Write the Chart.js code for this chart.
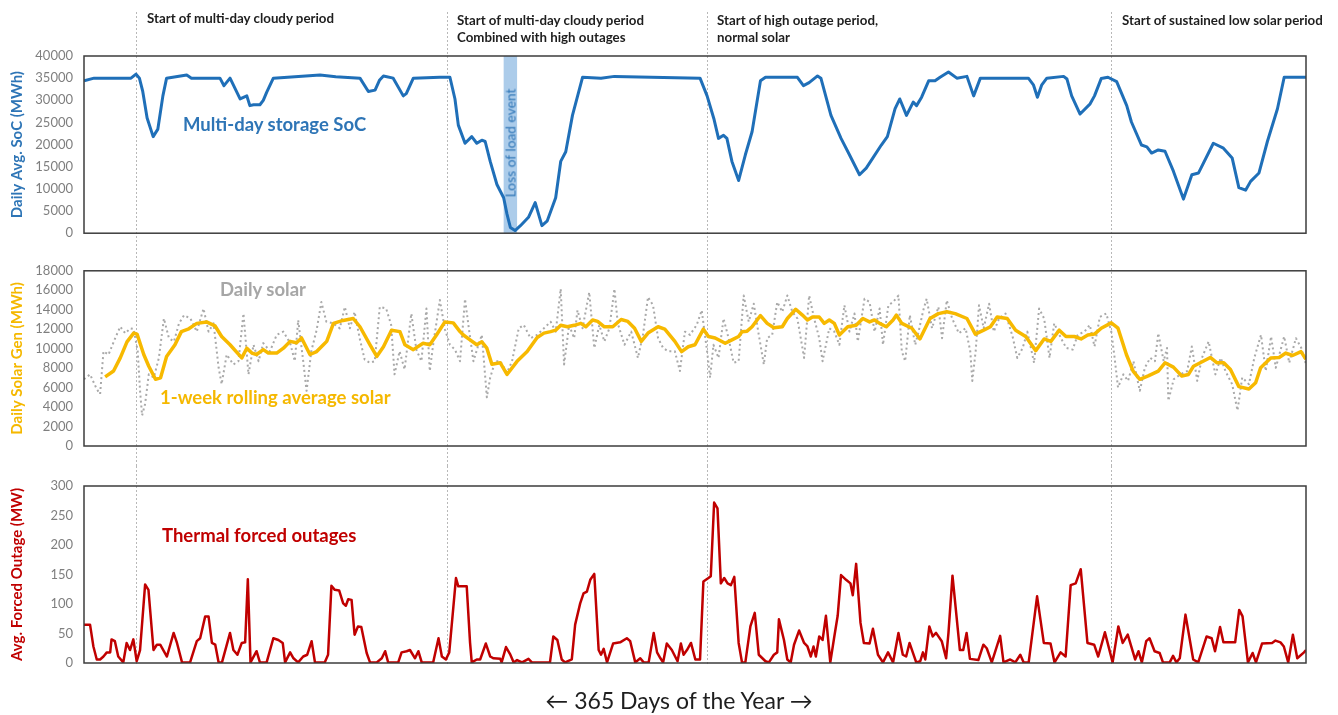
<!DOCTYPE html>
<html>
<head>
<meta charset="utf-8">
<script src="https://cdn.jsdelivr.net/npm/chart.js@4.4.1/dist/chart.umd.min.js"></script>
<style>
  body { margin: 0; background: #fff; }
  #wrap { position: relative; width: 1338px; height: 715px; overflow: hidden; font-family: Lato, 'Open Sans', sans-serif; }
  canvas { position: absolute; left: 0; }
  .note { position: absolute; font-weight: bold; font-size: 13.3px; line-height: 17px; color: #1e1e1e; white-space: nowrap; }
  .tag { position: absolute; font-weight: bold; font-size: 18.5px; line-height: 22px; white-space: nowrap; }
  .lol { position: absolute; font-size: 13.8px; color: #2e75b6; white-space: nowrap; transform: translate(-50%, -50%) rotate(-90deg); }
  .xlab { position: absolute; left: 10px; width: 1338px; top: 686px; text-align: center; font-size: 23px; color: #1e1e1e; }
</style>
</head>
<body>
<div id="wrap">
  <canvas id="socChart" width="1338" height="252" style="top:0"></canvas>
  <canvas id="solarChart" width="1338" height="214" style="top:252px"></canvas>
  <canvas id="outageChart" width="1338" height="249" style="top:466px"></canvas>

  <div class="note" style="left:147px;top:10px">Start of multi-day cloudy period</div>
  <div class="note" style="left:457px;top:12px">Start of multi-day cloudy period<br>Combined with high outages</div>
  <div class="note" style="left:717px;top:12px">Start of high outage period,<br>normal solar</div>
  <div class="note" style="left:1122px;top:12px">Start of sustained low solar period</div>

  <div class="tag" style="left:183px;top:113px;color:#2e75b6">Multi-day storage SoC</div>
  <div class="tag" style="left:220px;top:278px;color:#a6a6a6">Daily solar</div>
  <div class="tag" style="left:160px;top:386px;color:#f5b800">1-week rolling average solar</div>
  <div class="tag" style="left:162px;top:524px;color:#c00000">Thermal forced outages</div>
  <div class="lol" style="left:510px;top:143px">Loss of load event</div>

  <div class="xlab">&larr; 365 Days of the Year &rarr;</div>
</div>

<script>
// ---- data (day of year, value) ----
const markerDays = [15.5, 108, 185.6, 306];
const lossOfLoad = [125, 129];

const socTicks = [0, 5000, 10000, 15000, 20000, 25000, 30000, 35000, 40000];
const solarTicks = [0, 2000, 4000, 6000, 8000, 10000, 12000, 14000, 16000, 18000];
const outageTicks = [0, 50, 100, 150, 200, 250, 300];

const socDays = [0, 3, 14, 15.5, 16.5, 17.5, 18.8, 20.6, 22, 23.5, 24.6, 30.6, 32, 40.5, 41.7, 43.5, 46.5, 48.5, 49.4, 50.5,
  52.4, 53.4, 54.4, 56.4, 70.3, 75, 82.2, 84.7, 86.7, 88, 89.2, 92.1, 95.1, 96, 98.1, 106, 109, 110.5, 111.5, 113.5,
  115.5, 117, 118.5, 119.5, 121, 123, 125, 126, 127, 128.4, 130, 132.4, 134.4, 136.4, 138, 140.5, 142, 143.5, 145.5, 148.5,
  154, 158, 183.5, 185.6, 187.6, 189, 190.5, 191.5, 193, 195, 197, 199, 201.5, 203, 212.5, 214.3, 216, 218.5, 219.5, 222.5,
  225.5, 228, 231, 233, 235, 237.5, 239.3, 241.6, 243, 245, 247, 248, 249.5, 251.6, 253.5, 255, 257.5, 260, 263, 265,
  267, 281.3, 282.8, 284, 285.3, 286.8, 291.8, 292.8, 294.2, 296.7, 299.7, 301, 303, 305, 307.6, 310.6, 312, 315, 316.6, 318,
  320, 322, 324.5, 327.5, 330, 332, 336.4, 339.4, 342, 344, 346, 347.5, 350, 352.5, 355.5, 357.5, 364];
const socValues = [34400, 35000, 35000, 35900, 35000, 32000, 26000, 21800, 23500, 31000, 35000, 35700, 35000, 35000, 33300, 35000, 30300, 31000, 28800, 29000,
  29000, 30000, 31800, 35000, 35700, 35300, 35000, 32000, 32300, 34500, 35500, 35000, 31000, 31500, 35000, 35200, 35200, 30300, 24400, 20300,
  21800, 20300, 21000, 20700, 16200, 11000, 8000, 4300, 1300, 600, 1700, 3600, 6900, 1700, 2800, 8000, 16200, 18400, 26600, 35200,
  35000, 35400, 35000, 31000, 25900, 21400, 22100, 21400, 16200, 11900, 17700, 22900, 34400, 35200, 35200, 33300, 34000, 35500, 35000, 26600,
  21400, 17700, 13200, 14700, 17000, 19900, 21800, 28100, 30300, 26600, 29600, 28800, 30700, 34400, 34400, 35200, 36400, 35000, 35400, 31000,
  35000, 35000, 33500, 30700, 33500, 35000, 35400, 34800, 31000, 26900, 29200, 31000, 34900, 35200, 34200, 28800, 25100, 19900, 19500, 18100,
  18800, 18500, 14000, 7700, 13200, 13600, 20300, 19200, 17000, 10300, 9700, 11700, 13600, 20700, 28100, 35200, 35200];

const avgDays = [6.3, 8.8, 10.8, 12.8, 14.8, 15.8, 17.8, 19.3, 21.3, 22.8, 24.6, 27.1, 29, 31, 33.6, 36.5, 39, 41, 43.5, 47,
  48.5, 50, 51.4, 53.4, 54.9, 57.4, 59.4, 61.4, 63.3, 64.8, 67.3, 69.3, 71.3, 72.3, 74.3, 77.2, 80.2, 82.2, 85.2, 87.2,
  89.2, 91.6, 94.1, 95.6, 98.1, 101, 103, 105, 107.5, 110, 112, 113, 115, 117, 118.5, 120, 121.5, 124, 126, 129,
  132, 135, 137, 139, 140.5, 142, 144, 146, 148, 149.5, 151.5, 153, 155, 157.5, 160, 162, 164, 166, 168, 171,
  173, 176, 178, 180, 182, 184.5, 186, 188, 191, 193, 195, 196, 197.5, 199, 201.5, 203.5, 205.5, 208, 209.5, 212,
  214, 215.5, 217, 219, 220.5, 222, 223.5, 225, 227.5, 230, 232, 234, 235.5, 237, 239, 241, 242, 243.6, 246.6, 249,
  252, 254.5, 257, 259.5, 263, 265.5, 268, 270, 272, 275, 277.5, 280.5, 283.5, 286, 288, 290.5, 292.5, 295, 297, 299,
  301, 303, 306, 308, 310.5, 312.5, 314.5, 317, 320, 322, 324.5, 327, 329, 330.5, 332.5, 335.5, 337.5, 339.5, 341.5, 344,
  347, 349, 350.5, 353.5, 356, 358, 360, 362.5, 364];
const avgValues = [7100, 7700, 9050, 10700, 11600, 11500, 9400, 8200, 6850, 7000, 9200, 10400, 11750, 12000, 12600, 12750, 12350, 11250, 10400, 9050,
  10050, 9550, 9400, 9900, 9550, 9550, 10050, 10750, 10600, 11100, 9400, 9700, 10400, 10750, 12600, 12900, 13100, 12250, 10400, 9200,
  10200, 11900, 11750, 10400, 9900, 10550, 10400, 11400, 12750, 12650, 11750, 11400, 10900, 10400, 10700, 10050, 8400, 8550, 7350, 8700,
  9700, 11150, 11600, 11750, 11900, 12400, 12250, 12400, 12600, 12250, 12950, 12800, 12250, 12250, 13000, 12800, 12100, 10750, 11600, 12250,
  12000, 10750, 9700, 10200, 10400, 12000, 11250, 11100, 10550, 10900, 11250, 11750, 11800, 12250, 13400, 12600, 12150, 12250, 13100, 14050,
  13450, 12950, 13250, 13250, 12600, 12950, 12600, 11400, 12250, 12400, 13100, 12750, 12950, 12600, 12250, 12950, 13450, 12600, 12100, 11000,
  13100, 13600, 13800, 13600, 13100, 11500, 11900, 12250, 13250, 13100, 11900, 11250, 9800, 11000, 10750, 11900, 11250, 11250, 11000, 11400,
  11500, 12100, 12650, 12100, 9400, 7700, 6850, 7200, 7700, 8550, 8100, 7200, 7350, 8200, 8550, 9100, 8550, 8550, 7850, 6100,
  5850, 6500, 8050, 9050, 9100, 9550, 9300, 9700, 8900];

const solarDays = [0, 1.8, 3.8, 4.8, 5.8, 7.3, 9.3, 10.8, 12.3, 13.8, 14.8, 16, 16.7, 17.3, 18.2, 19.3, 20.8, 22.3, 23.8, 25.3,
  26.8, 28.3, 29.8, 31.7, 33.6, 35.6, 37.1, 38.6, 40.1, 41, 42.5, 44.5, 46, 47.5, 49, 50.5, 52, 53.4, 55.4, 57.4,
  59.4, 61.4, 62.8, 63.8, 65.3, 66.3, 67.7, 69.3, 70.7, 72.2, 74.2, 76.2, 77.7, 79.2, 80.6, 82.1, 83.6, 85.1, 86.6, 88.1,
  90, 91.5, 92.5, 94, 95.5, 97.5, 99, 100.5, 102, 103, 104, 106, 107.5, 109, 110.5, 112, 113.5, 114.5, 116, 117.5,
  118.5, 120, 121, 122.5, 124, 126, 127.5, 129.5, 131, 133, 135, 137, 139, 140.5, 142, 143, 144.5, 146, 147, 148.5,
  150.5, 152, 153.5, 155, 156.5, 158, 159, 161, 163, 165, 166.5, 168, 169.5, 171, 172.5, 174, 176, 177.5, 179, 180.5,
  182.5, 184, 185.6, 186.5, 187.5, 189, 190.5, 192, 193.5, 195, 196.5, 198, 199.5, 201, 202.5, 203.5, 205, 206.5, 208, 209.5,
  211, 212.5, 214.5, 216, 217.5, 219, 220, 222, 223.5, 225, 226.5, 228, 229.5, 230.5, 232.5, 234, 235.5, 237, 238, 239.6,
  241, 242.6, 243.6, 244.6, 246, 247.6, 248.6, 250, 251, 252.6, 254.5, 255.6, 257, 258.6, 260.6, 262.6, 264, 264.6, 265.6, 266.6,
  268, 269.6, 271, 272.6, 274.5, 276.6, 278, 279.6, 281, 283, 284.5, 286, 287.6, 289, 291, 292.6, 294.5, 296, 298, 299.6,
  301, 302.6, 304.5, 306, 307, 308, 309.6, 311, 312.6, 314.5, 316, 317.6, 319, 320, 321.6, 322.6, 323, 324.6, 326.6, 328.6,
  330, 331.6, 333, 335, 337, 338.6, 340, 342, 343.6, 345, 347, 348.6, 350.6, 352, 353.6, 355, 357.5, 359, 361, 362.6, 364];
const solarValues = [6850, 7360, 5840, 5340, 9730, 9390, 11080, 12260, 11580, 12090, 12020, 9730, 5670, 3140, 4320, 7360, 7030, 9050, 13100, 11080,
  10740, 12600, 13440, 13100, 11750, 14120, 11750, 12600, 8040, 6350, 9390, 8380, 8710, 13610, 7360, 10400, 8710, 10570, 9730, 11420,
  11750, 10570, 8710, 12940, 8710, 5670, 9730, 11920, 14790, 12770, 12600, 12090, 14290, 12090, 13780, 11080, 8880, 8550, 8710, 14290,
  14120, 12430, 7360, 9730, 7870, 13610, 9900, 8710, 14120, 7700, 10400, 15000, 12000, 10400, 9900, 8710, 15100, 12430, 8710, 10400,
  11420, 5000, 7030, 8710, 8710, 7530, 8710, 12090, 12430, 11080, 11420, 12090, 12770, 11750, 16140, 8380, 12430, 11080, 13950, 12090,
  15800, 10070, 12430, 10740, 12090, 16140, 12600, 10400, 11750, 9050, 11420, 15300, 14460, 11080, 10070, 9730, 9730, 7700, 11750, 11420,
  12430, 13950, 9730, 7030, 10400, 9050, 13100, 11080, 8550, 8710, 15460, 12770, 14620, 11420, 8380, 11080, 11420, 14790, 13780, 15460,
  13780, 13100, 9050, 15460, 13100, 11080, 8710, 12090, 11750, 10400, 14460, 11750, 13610, 10740, 15130, 14790, 11750, 14120, 10400, 14460,
  14790, 15460, 9730, 8710, 13440, 10400, 11750, 13950, 15130, 12090, 14290, 11080, 14960, 13100, 11580, 12090, 9730, 6690, 9730, 14460,
  12090, 14620, 11750, 13100, 13610, 11250, 9050, 10070, 11750, 8550, 14120, 13100, 9050, 12600, 11080, 10070, 9900, 11420, 11750, 12430,
  10230, 13270, 13610, 11750, 9050, 6010, 7360, 6690, 8710, 5670, 8040, 9050, 8710, 11580, 8710, 10070, 4660, 6860, 7360, 7700,
  10230, 6690, 9050, 10740, 7360, 9050, 7700, 6350, 3650, 7030, 6350, 9050, 11420, 7700, 11250, 8040, 11250, 8550, 11080, 10070, 8380];

const outageDays = [0, 1.8, 2.8, 3.8, 4.8, 5.8, 6.8, 7.8, 8.2, 9.2, 10.2, 11.7, 12.7, 13.7, 14.7, 15.7, 16.7, 18.2, 19.2, 20.7,
  21.7, 22.7, 24.7, 26.7, 27.7, 29.2, 31.6, 33.6, 34.6, 36.1, 37.1, 38.1, 39.1, 40.1, 41.1, 43.5, 44.5, 45.7, 47, 48,
  48.8, 49.6, 51.4, 52.4, 54.4, 56.4, 57.9, 59.2, 59.9, 61.4, 62.4, 63.8, 65.3, 66.5, 67.8, 68.8, 71.7, 72.7, 73.7, 74.7,
  76, 77.2, 78, 78.7, 79.7, 80.6, 81.6, 82.6, 84.2, 85.2, 87.2, 88.7, 89.7, 90.6, 93.6, 94.6, 96.1, 97.1, 98.6, 99.6,
  100.6, 104, 105.6, 106.6, 107.8, 108.8, 110.8, 111.5, 114, 115, 115.5, 117, 118, 119.7, 121, 122, 124, 124.4, 125.7, 127,
  128, 129, 130.5, 132.4, 133.4, 138.8, 139.8, 141, 142.3, 143.3, 145.3, 146.3, 147.8, 148.8, 149.8, 150.8, 152, 153.3, 154, 154.8,
  155.8, 157.6, 159.7, 161.7, 162.7, 164.2, 165.7, 166.7, 168.2, 169.7, 170.7, 171.7, 172.5, 173.6, 175.1, 176.8, 177.8, 178.6, 179.6, 180.8,
  182.1, 183.5, 184.5, 186, 186.7, 187.7, 188.7, 189.7, 190.7, 191.7, 192.7, 193.7, 195, 196, 197, 198.5, 199.8, 201, 203, 204,
  205.5, 206.5, 207, 208.5, 209.5, 210.5, 211.5, 213, 214.5, 215.5, 216.5, 217.3, 218, 219, 220, 221, 222.3, 223.5, 224.5, 225.5,
  227, 228.3, 229, 230, 231.3, 232.3, 234, 235, 236.5, 238, 239.5, 241, 242.6, 243.9, 244.9, 245.9, 247.9, 249.1, 249.9, 250.6,
  251.8, 252.8, 253.8, 255.5, 256.8, 257.5, 258.7, 260.9, 261.9, 262.9, 263.9, 266.4, 267.9, 268.9, 270.4, 272.9, 273.9, 275.9, 277.4, 278.9,
  279.9, 281.4, 283.9, 285.9, 287.9, 289.1, 290.9, 292.4, 293.9, 295.4, 296.9, 298.9, 300.9, 302.1, 304.1, 306.4, 308.1, 309.4, 310.9, 313.1,
  314.1, 315.1, 316.4, 317.4, 318.9, 320.4, 321.4, 323.4, 324.4, 325.4, 326.4, 328.1, 330.4, 331.9, 334.4, 335.9, 336.9, 338.4, 339.4, 342.9,
  344.1, 345.1, 346.7, 348.1, 349.1, 350.9, 353.9, 354.9, 356.4, 357.4, 358.7, 360.1, 361.4, 363.4, 364];
const outageValues = [65, 65, 28, 6, 6, 11, 18, 18, 40, 37, 11, 1, 34, 22, 40, 3, 22, 133, 124, 22,
  31, 31, 11, 51, 34, 1, 1, 37, 42, 79, 79, 34, 31, 1, 1, 51, 22, 14, 34, 35,
  142, 1, 20, 1, 1, 42, 39, 34, 1, 18, 8, 1, 11, 14, 37, 1, 1, 14, 131, 124,
  123, 101, 97, 108, 107, 48, 62, 61, 17, 1, 1, 8, 20, 1, 1, 18, 20, 22, 8, 20,
  1, 1, 42, 11, 6, 18, 144, 130, 130, 34, 1, 6, 6, 33, 11, 8, 7, 1, 27, 14,
  1, 5, 1, 7, 1, 1, 45, 39, 6, 1, 6, 65, 101, 118, 121, 141, 151, 22, 14, 24,
  1, 33, 35, 42, 37, 1, 8, 1, 1, 51, 18, 8, 1, 33, 22, 3, 33, 14, 22, 34,
  6, 6, 138, 144, 147, 272, 262, 135, 144, 135, 132, 146, 34, 1, 1, 62, 85, 14, 3, 1,
  14, 18, 74, 39, 6, 1, 31, 55, 34, 28, 11, 28, 11, 45, 39, 80, 1, 45, 80, 149,
  141, 135, 115, 168, 68, 34, 33, 58, 14, 1, 18, 1, 51, 14, 11, 34, 1, 3, 18, 6,
  62, 45, 51, 37, 8, 51, 148, 22, 22, 51, 7, 5, 31, 25, 1, 46, 1, 6, 1, 14,
  1, 1, 113, 34, 33, 1, 18, 11, 132, 135, 159, 34, 31, 11, 52, 1, 62, 34, 48, 6,
  20, 1, 37, 42, 20, 17, 1, 1, 12, 1, 8, 82, 6, 1, 45, 42, 20, 61, 35, 35,
  90, 79, 1, 17, 1, 33, 34, 38, 35, 28, 1, 48, 8, 18, 22];

// ---- helpers ----
const pts = (days, vals) => days.map((d, i) => ({ x: d, y: vals[i] }));

const panelFrame = {
  id: 'panelFrame',
  beforeDatasetsDraw(chart, args, opts) {
    const { ctx, chartArea: a, scales: { x } } = chart;
    ctx.save();
    if (opts.band) {
      const x0 = x.getPixelForValue(opts.band[0]);
      const x1 = x.getPixelForValue(opts.band[1]);
      ctx.fillStyle = 'rgba(157,195,230,0.85)';
      ctx.fillRect(x0, a.top, x1 - x0, a.bottom - a.top);
    }
    ctx.strokeStyle = '#b8b8b8';
    ctx.lineWidth = 1;
    ctx.setLineDash([2, 2]);
    const bottom = opts.lineBottom != null ? opts.lineBottom : chart.height;
    markerDays.forEach(d => {
      const px = Math.round(x.getPixelForValue(d)) + 0.5;
      ctx.beginPath();
      ctx.moveTo(px, opts.lineTop || 0);
      ctx.lineTo(px, bottom);
      ctx.stroke();
    });
    ctx.restore();
  },
  afterDraw(chart) {
    const { ctx, chartArea: a } = chart;
    ctx.save();
    ctx.strokeStyle = '#3c3c3c';
    ctx.lineWidth = 1.5;
    ctx.strokeRect(a.left, a.top, a.right - a.left, a.bottom - a.top);
    ctx.restore();
  }
};

function yAxis(tickList, title, color) {
  return {
    min: tickList[0],
    max: tickList[tickList.length - 1],
    afterBuildTicks(scale) { scale.ticks = tickList.map(v => ({ value: v })); },
    afterFit(scale) { scale.width = 84; },
    ticks: { color: '#7f7f7f', font: { family: 'Lato', size: 13 }, padding: 11, callback: v => String(v) },
    grid: { display: false, drawTicks: false },
    border: { display: false },
    title: { display: true, text: title, color, font: { family: 'Lato', size: 15, weight: 'bold' }, padding: { top: 8, bottom: 0 } }
  };
}

function makeChart(id, datasets, yScale, pad, frameOpts) {
  return new Chart(document.getElementById(id), {
    type: 'line',
    data: { datasets },
    options: {
      responsive: false,
      animation: false,
      layout: { padding: { left: 0, right: 32, top: pad[0], bottom: pad[1] } },
      plugins: { legend: { display: false }, tooltip: { enabled: false }, panelFrame: frameOpts },
      elements: { point: { radius: 0 }, line: { tension: 0, borderJoinStyle: 'round' } },
      scales: {
        x: { type: 'linear', min: 0, max: 364, display: false },
        y: yScale
      }
    },
    plugins: [panelFrame]
  });
}

makeChart('socChart', [
  { data: pts(socDays, socValues), borderColor: '#1f6fb8', borderWidth: 3 }
], yAxis(socTicks, 'Daily Avg. SoC (MWh)', '#2e75b6'), [56, 16], { lineTop: 12, band: lossOfLoad });

makeChart('solarChart', [
  { data: pts(avgDays, avgValues), borderColor: '#f7b900', borderWidth: 3.5 },
  { data: pts(solarDays, solarValues), borderColor: '#a9a9a9', borderWidth: 2, borderDash: [2, 3] }
], yAxis(solarTicks, 'Daily Solar Gen (MWh)', '#f5b800'), [16, 20], {});

makeChart('outageChart', [
  { data: pts(outageDays, outageValues), borderColor: '#c00000', borderWidth: 2.5 }
], yAxis(outageTicks, 'Avg. Forced Outage (MW)', '#c00000'), [20, 52], { lineBottom: 200 });
</script>
</body>
</html>
